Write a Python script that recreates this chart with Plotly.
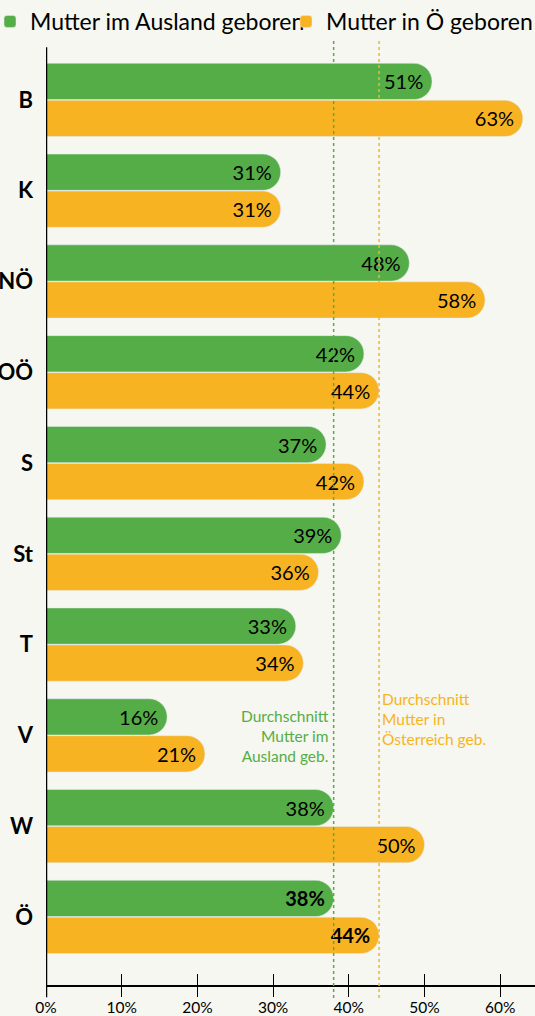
import plotly.graph_objects as go

# Bundesländer
categories = ["B", "K", "NÖ", "OÖ", "S", "St", "T", "V", "W", "Ö"]
mutter_ausland = [51, 31, 48, 42, 37, 39, 33, 16, 38, 38]
mutter_oe = [63, 31, 58, 44, 42, 36, 34, 21, 50, 44]
avg_ausland = 38
avg_oe = 44
x_ticks = [0, 10, 20, 30, 40, 50, 60]

GREEN = "#55ad47"
ORANGE = "#f8b323"
BG = "#f5f7f0"
FONT = "Lato"


def labels(values):
    # letzte Zeile (Österreich gesamt) fett
    out = []
    for i, v in enumerate(values):
        t = f"{v}%"
        if categories[i] == "Ö":
            t = f"<b>{t}</b>"
        out.append(t)
    return out


fig = go.Figure()
fig.add_trace(go.Bar(
    y=categories, x=mutter_ausland, orientation="h",
    # Leerzeichen am Ende, damit die Legende nicht abgeschnitten wird
    name="Mutter im Ausland geboren\u00a0\u00a0", marker_color=GREEN, legend="legend",
    text=labels(mutter_ausland), textposition="inside", insidetextanchor="end",
    textfont=dict(family=FONT, size=20, color="black"), constraintext="none",
    hoverinfo="skip",
))
fig.add_trace(go.Bar(
    y=categories, x=mutter_oe, orientation="h",
    name="Mutter in Ö geboren", marker_color=ORANGE, legend="legend2",
    text=labels(mutter_oe), textposition="inside", insidetextanchor="end",
    textfont=dict(family=FONT, size=20, color="black"), constraintext="none",
    hoverinfo="skip",
))

# zweite x-Achse nur für die nach unten zeigenden Ticks
fig.add_trace(go.Scatter(x=[0], y=[categories[0]], xaxis="x2", mode="markers",
                         marker_opacity=0, showlegend=False, hoverinfo="skip"))

# Durchschnittslinien
fig.add_shape(type="line", xref="x", yref="paper", x0=avg_ausland, x1=avg_ausland,
              y0=-0.014, y1=1.01, line=dict(color=GREEN, width=1.5, dash="dot"))
fig.add_shape(type="line", xref="x", yref="paper", x0=avg_oe, x1=avg_oe,
              y0=-0.014, y1=1.01, line=dict(color=ORANGE, width=1.5, dash="dot"))
# linke Achse
fig.add_shape(type="line", xref="x", yref="paper", x0=0, x1=0,
              y0=-0.013, y1=1.003, line=dict(color="black", width=2.5))

fig.add_annotation(x=avg_ausland, xref="x", xanchor="right", xshift=-3,
                   y=6.66, yref="y", yanchor="top", align="right", showarrow=False,
                   text="Durchschnitt<br>Mutter im<br>Ausland geb.",
                   font=dict(family=FONT, size=15.5, color=GREEN))
fig.add_annotation(x=avg_oe, xref="x", xanchor="left", xshift=1,
                   y=6.48, yref="y", yanchor="top", align="left", showarrow=False,
                   text="Durchschnitt<br>Mutter in<br>Österreich geb.",
                   font=dict(family=FONT, size=15.5, color=ORANGE))

legend_style = dict(orientation="h", yref="container",
                    y=1, xanchor="left", yanchor="top",
                    font=dict(size=23, color="black"), itemwidth=30,
                    bgcolor="rgba(0,0,0,0)")

fig.update_layout(
    width=535, height=1016,
    barmode="group", bargap=0.185, bargroupgap=0.02, barcornerradius=18,
    plot_bgcolor=BG, paper_bgcolor=BG,
    margin=dict(l=46, r=0, t=50, b=31, autoexpand=False),
    font=dict(family=FONT, color="black"),
    showlegend=True,
    legend=dict(xref="paper", x=(-10 - 46) / 489, **legend_style),
    legend2=dict(xref="container", x=286 / 535, **legend_style),
    xaxis=dict(range=[0, 64.6], tickvals=x_ticks,
               ticktext=[f"{v}%" for v in x_ticks],
               showgrid=False, zeroline=False, showline=True,
               linecolor="black", linewidth=1.5,
               ticks="inside", ticklen=11, tickcolor="black", tickwidth=1.2,
               ticklabelstandoff=8, tickfont=dict(size=15.5)),
    xaxis2=dict(range=[0, 64.6], tickvals=x_ticks, overlaying="x", side="bottom",
                showgrid=False, zeroline=False, showticklabels=False,
                ticks="outside", ticklen=11, tickcolor="black", tickwidth=1.2),
    yaxis=dict(type="category", range=[9.75, -0.55], showgrid=False,
               zeroline=False, showline=False, ticks="",
               ticklabelstandoff=12,
               tickfont=dict(size=22, family=FONT, weight="bold")),
)

fig.write_html(
    "out.html",
    config={"displayModeBar": False},
    post_script="document.body.style.margin='0';document.body.style.background='%s';" % BG,
)
